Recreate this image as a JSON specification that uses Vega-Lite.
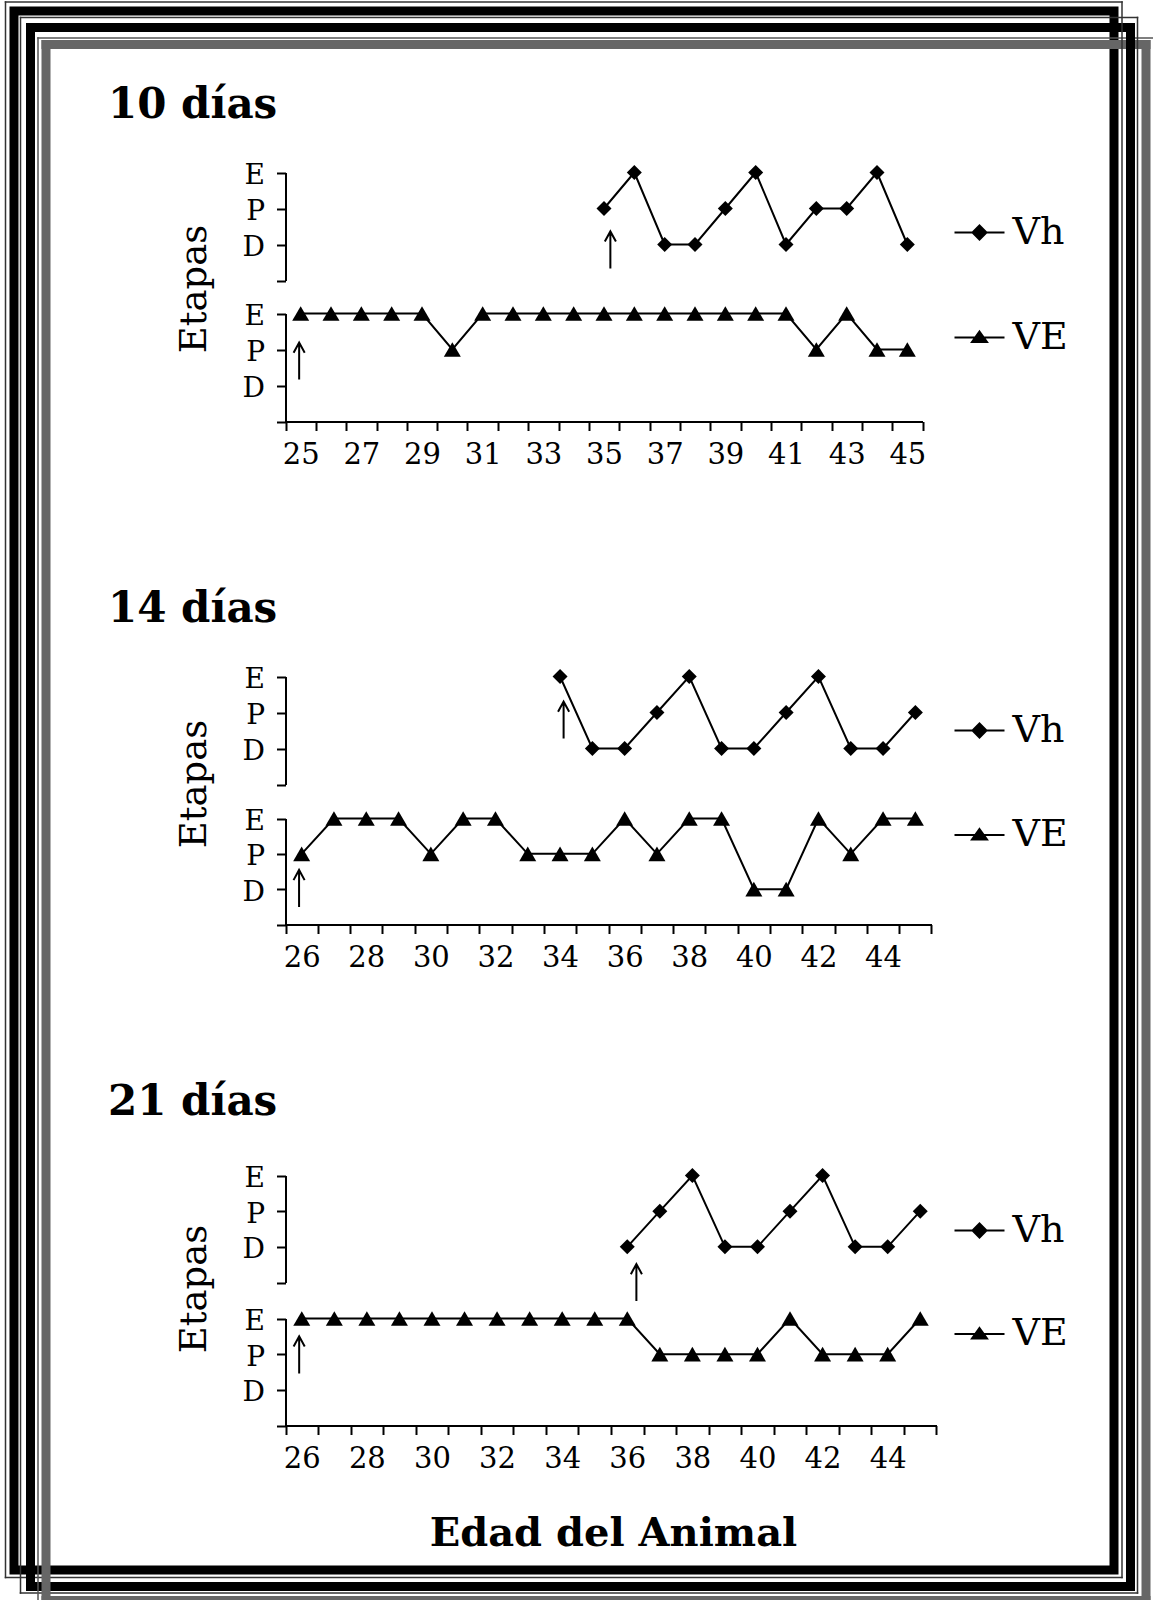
{
  "$schema": "https://vega.github.io/schema/vega-lite/v6.json",
  "padding": {"left": 2, "top": -2, "right": 0, "bottom": 0},
  "background": "white",
  "width": 1100,
  "height": 1559,
  "view": {"stroke": "black", "strokeWidth": 9, "fill": null},
  "datasets": {
    "etapas": [
      {"grupo": "10 días", "serie": "Vh", "edad": 35, "etapa": 2},
      {"grupo": "10 días", "serie": "Vh", "edad": 36, "etapa": 3},
      {"grupo": "10 días", "serie": "Vh", "edad": 37, "etapa": 1},
      {"grupo": "10 días", "serie": "Vh", "edad": 38, "etapa": 1},
      {"grupo": "10 días", "serie": "Vh", "edad": 39, "etapa": 2},
      {"grupo": "10 días", "serie": "Vh", "edad": 40, "etapa": 3},
      {"grupo": "10 días", "serie": "Vh", "edad": 41, "etapa": 1},
      {"grupo": "10 días", "serie": "Vh", "edad": 42, "etapa": 2},
      {"grupo": "10 días", "serie": "Vh", "edad": 43, "etapa": 2},
      {"grupo": "10 días", "serie": "Vh", "edad": 44, "etapa": 3},
      {"grupo": "10 días", "serie": "Vh", "edad": 45, "etapa": 1},
      {"grupo": "10 días", "serie": "VE", "edad": 25, "etapa": 3},
      {"grupo": "10 días", "serie": "VE", "edad": 26, "etapa": 3},
      {"grupo": "10 días", "serie": "VE", "edad": 27, "etapa": 3},
      {"grupo": "10 días", "serie": "VE", "edad": 28, "etapa": 3},
      {"grupo": "10 días", "serie": "VE", "edad": 29, "etapa": 3},
      {"grupo": "10 días", "serie": "VE", "edad": 30, "etapa": 2},
      {"grupo": "10 días", "serie": "VE", "edad": 31, "etapa": 3},
      {"grupo": "10 días", "serie": "VE", "edad": 32, "etapa": 3},
      {"grupo": "10 días", "serie": "VE", "edad": 33, "etapa": 3},
      {"grupo": "10 días", "serie": "VE", "edad": 34, "etapa": 3},
      {"grupo": "10 días", "serie": "VE", "edad": 35, "etapa": 3},
      {"grupo": "10 días", "serie": "VE", "edad": 36, "etapa": 3},
      {"grupo": "10 días", "serie": "VE", "edad": 37, "etapa": 3},
      {"grupo": "10 días", "serie": "VE", "edad": 38, "etapa": 3},
      {"grupo": "10 días", "serie": "VE", "edad": 39, "etapa": 3},
      {"grupo": "10 días", "serie": "VE", "edad": 40, "etapa": 3},
      {"grupo": "10 días", "serie": "VE", "edad": 41, "etapa": 3},
      {"grupo": "10 días", "serie": "VE", "edad": 42, "etapa": 2},
      {"grupo": "10 días", "serie": "VE", "edad": 43, "etapa": 3},
      {"grupo": "10 días", "serie": "VE", "edad": 44, "etapa": 2},
      {"grupo": "10 días", "serie": "VE", "edad": 45, "etapa": 2},
      {"grupo": "14 días", "serie": "Vh", "edad": 34, "etapa": 3},
      {"grupo": "14 días", "serie": "Vh", "edad": 35, "etapa": 1},
      {"grupo": "14 días", "serie": "Vh", "edad": 36, "etapa": 1},
      {"grupo": "14 días", "serie": "Vh", "edad": 37, "etapa": 2},
      {"grupo": "14 días", "serie": "Vh", "edad": 38, "etapa": 3},
      {"grupo": "14 días", "serie": "Vh", "edad": 39, "etapa": 1},
      {"grupo": "14 días", "serie": "Vh", "edad": 40, "etapa": 1},
      {"grupo": "14 días", "serie": "Vh", "edad": 41, "etapa": 2},
      {"grupo": "14 días", "serie": "Vh", "edad": 42, "etapa": 3},
      {"grupo": "14 días", "serie": "Vh", "edad": 43, "etapa": 1},
      {"grupo": "14 días", "serie": "Vh", "edad": 44, "etapa": 1},
      {"grupo": "14 días", "serie": "Vh", "edad": 45, "etapa": 2},
      {"grupo": "14 días", "serie": "VE", "edad": 26, "etapa": 2},
      {"grupo": "14 días", "serie": "VE", "edad": 27, "etapa": 3},
      {"grupo": "14 días", "serie": "VE", "edad": 28, "etapa": 3},
      {"grupo": "14 días", "serie": "VE", "edad": 29, "etapa": 3},
      {"grupo": "14 días", "serie": "VE", "edad": 30, "etapa": 2},
      {"grupo": "14 días", "serie": "VE", "edad": 31, "etapa": 3},
      {"grupo": "14 días", "serie": "VE", "edad": 32, "etapa": 3},
      {"grupo": "14 días", "serie": "VE", "edad": 33, "etapa": 2},
      {"grupo": "14 días", "serie": "VE", "edad": 34, "etapa": 2},
      {"grupo": "14 días", "serie": "VE", "edad": 35, "etapa": 2},
      {"grupo": "14 días", "serie": "VE", "edad": 36, "etapa": 3},
      {"grupo": "14 días", "serie": "VE", "edad": 37, "etapa": 2},
      {"grupo": "14 días", "serie": "VE", "edad": 38, "etapa": 3},
      {"grupo": "14 días", "serie": "VE", "edad": 39, "etapa": 3},
      {"grupo": "14 días", "serie": "VE", "edad": 40, "etapa": 1},
      {"grupo": "14 días", "serie": "VE", "edad": 41, "etapa": 1},
      {"grupo": "14 días", "serie": "VE", "edad": 42, "etapa": 3},
      {"grupo": "14 días", "serie": "VE", "edad": 43, "etapa": 2},
      {"grupo": "14 días", "serie": "VE", "edad": 44, "etapa": 3},
      {"grupo": "14 días", "serie": "VE", "edad": 45, "etapa": 3},
      {"grupo": "21 días", "serie": "Vh", "edad": 36, "etapa": 1},
      {"grupo": "21 días", "serie": "Vh", "edad": 37, "etapa": 2},
      {"grupo": "21 días", "serie": "Vh", "edad": 38, "etapa": 3},
      {"grupo": "21 días", "serie": "Vh", "edad": 39, "etapa": 1},
      {"grupo": "21 días", "serie": "Vh", "edad": 40, "etapa": 1},
      {"grupo": "21 días", "serie": "Vh", "edad": 41, "etapa": 2},
      {"grupo": "21 días", "serie": "Vh", "edad": 42, "etapa": 3},
      {"grupo": "21 días", "serie": "Vh", "edad": 43, "etapa": 1},
      {"grupo": "21 días", "serie": "Vh", "edad": 44, "etapa": 1},
      {"grupo": "21 días", "serie": "Vh", "edad": 45, "etapa": 2},
      {"grupo": "21 días", "serie": "VE", "edad": 26, "etapa": 3},
      {"grupo": "21 días", "serie": "VE", "edad": 27, "etapa": 3},
      {"grupo": "21 días", "serie": "VE", "edad": 28, "etapa": 3},
      {"grupo": "21 días", "serie": "VE", "edad": 29, "etapa": 3},
      {"grupo": "21 días", "serie": "VE", "edad": 30, "etapa": 3},
      {"grupo": "21 días", "serie": "VE", "edad": 31, "etapa": 3},
      {"grupo": "21 días", "serie": "VE", "edad": 32, "etapa": 3},
      {"grupo": "21 días", "serie": "VE", "edad": 33, "etapa": 3},
      {"grupo": "21 días", "serie": "VE", "edad": 34, "etapa": 3},
      {"grupo": "21 días", "serie": "VE", "edad": 35, "etapa": 3},
      {"grupo": "21 días", "serie": "VE", "edad": 36, "etapa": 3},
      {"grupo": "21 días", "serie": "VE", "edad": 37, "etapa": 2},
      {"grupo": "21 días", "serie": "VE", "edad": 38, "etapa": 2},
      {"grupo": "21 días", "serie": "VE", "edad": 39, "etapa": 2},
      {"grupo": "21 días", "serie": "VE", "edad": 40, "etapa": 2},
      {"grupo": "21 días", "serie": "VE", "edad": 41, "etapa": 3},
      {"grupo": "21 días", "serie": "VE", "edad": 42, "etapa": 2},
      {"grupo": "21 días", "serie": "VE", "edad": 43, "etapa": 2},
      {"grupo": "21 días", "serie": "VE", "edad": 44, "etapa": 2},
      {"grupo": "21 días", "serie": "VE", "edad": 45, "etapa": 3}
    ],
    "flechas": [
      {"grupo": "10 días", "serie": "Vh", "edad": 35, "etapa": 0.85},
      {"grupo": "10 días", "serie": "VE", "edad": 25, "etapa": 1.68},
      {"grupo": "14 días", "serie": "Vh", "edad": 34, "etapa": 1.79},
      {"grupo": "14 días", "serie": "VE", "edad": 26, "etapa": 1.02},
      {"grupo": "21 días", "serie": "Vh", "edad": 36, "etapa": 0.0},
      {"grupo": "21 días", "serie": "VE", "edad": 26, "etapa": 1.98}
    ]
  },
  "config": {
    "view": {"stroke": null},
    "font": "DejaVu Serif",
    "axis": {"grid": false, "domainColor": "black", "domainWidth": 2, "tickColor": "black", "tickWidth": 2, "tickSize": 9, "labelColor": "black", "titleColor": "black", "labelFont": "DejaVu Serif", "titleFont": "DejaVu Serif"},
    "axisY": {"labelFontSize": 28, "labelPadding": 12, "labelOffset": 3, "labelFlush": false},
    "axisX": {"labelFontSize": 29, "labelPadding": 10, "labelAngle": 0, "labelOverlap": false, "labelFlush": false},
    "legend": {"labelFont": "DejaVu Serif", "labelFontSize": 38, "labelColor": "black", "labelOffset": 7, "padding": 0, "symbolSize": 2500, "symbolStrokeWidth": 2, "symbolStrokeColor": "black", "symbolFillColor": "black"}
  },
  "resolve": {
    "scale": {"x": "independent", "y": "independent", "color": "independent"},
    "axis": {"x": "independent", "y": "independent"},
    "legend": {"color": "independent"}
  },
  "layer": [
    {
      "data": {"name": "etapas"},
      "mark": {"type": "point", "opacity": 0},
      "encoding": {
        "x": {"field": "edad", "type": "quantitative", "scale": {"domain": [25, 45], "range": [-9, 1107.5], "nice": false, "zero": false}, "axis": {"orient": "top", "offset": 9.5, "domainWidth": 1.5, "domainColor": "#333333", "domainCap": "square", "ticks": false, "labels": false, "title": null}},
        "y": {"field": "etapa", "type": "quantitative", "scale": {"domain": [0, 3], "range": [1566, -9.5], "nice": false, "zero": false}, "axis": {"orient": "left", "offset": 9, "domainWidth": 1.5, "domainColor": "#333333", "domainCap": "square", "ticks": false, "labels": false, "title": null}}
      }
    },
    {
      "data": {"name": "etapas"},
      "mark": {"type": "point", "opacity": 0},
      "encoding": {
        "x": {"field": "edad", "type": "quantitative", "scale": {"domain": [25, 45], "range": [-9, 1107.5], "nice": false, "zero": false}, "axis": {"orient": "bottom", "offset": 7, "domainWidth": 1.5, "domainColor": "#333333", "domainCap": "square", "ticks": false, "labels": false, "title": null}},
        "y": {"field": "etapa", "type": "quantitative", "scale": {"domain": [0, 3], "range": [1566, -9.5], "nice": false, "zero": false}, "axis": {"orient": "right", "offset": 7.5, "domainWidth": 1.5, "domainColor": "#333333", "domainCap": "square", "ticks": false, "labels": false, "title": null}}
      }
    },
    {
      "data": {"name": "etapas"},
      "mark": {"type": "point", "opacity": 0},
      "encoding": {
        "x": {"field": "edad", "type": "quantitative", "scale": {"domain": [25, 45], "range": [6, 1123], "nice": false, "zero": false}, "axis": {"orient": "top", "offset": -6, "domainWidth": 1.5, "domainColor": "#333333", "domainCap": "square", "ticks": false, "labels": false, "title": null}},
        "y": {"field": "etapa", "type": "quantitative", "scale": {"domain": [0, 3], "range": [1581.5, 6], "nice": false, "zero": false}, "axis": {"orient": "left", "offset": -6, "domainWidth": 1.5, "domainColor": "#333333", "domainCap": "square", "ticks": false, "labels": false, "title": null}}
      }
    },
    {
      "data": {"name": "etapas"},
      "mark": {"type": "point", "opacity": 0},
      "encoding": {
        "x": {"field": "edad", "type": "quantitative", "scale": {"domain": [25, 45], "range": [6, 1123], "nice": false, "zero": false}, "axis": {"orient": "bottom", "offset": 22.5, "domainWidth": 1.5, "domainColor": "#333333", "domainCap": "square", "ticks": false, "labels": false, "title": null}},
        "y": {"field": "etapa", "type": "quantitative", "scale": {"domain": [0, 3], "range": [1581.5, 6], "nice": false, "zero": false}, "axis": {"orient": "right", "offset": 23, "domainWidth": 1.5, "domainColor": "#333333", "domainCap": "square", "ticks": false, "labels": false, "title": null}}
      }
    },
    {
      "data": {"name": "etapas"},
      "mark": {"type": "point", "opacity": 0},
      "encoding": {
        "x": {"field": "edad", "type": "quantitative", "scale": {"domain": [25, 45], "range": [23.5, 1145], "nice": false, "zero": false}, "axis": {"orient": "top", "offset": -26.5, "domainWidth": 1.5, "domainColor": "#555555", "domainCap": "square", "ticks": false, "labels": false, "title": null}},
        "y": {"field": "etapa", "type": "quantitative", "scale": {"domain": [0, 3], "range": [1600, 26.5], "nice": false, "zero": false}, "axis": {"orient": "left", "offset": -23.5, "domainWidth": 1.5, "domainColor": "#555555", "domainCap": "square", "ticks": false, "labels": false, "title": null}}
      }
    },
    {
      "data": {"name": "etapas"},
      "mark": {"type": "point", "opacity": 0},
      "encoding": {
        "x": {"field": "edad", "type": "quantitative", "scale": {"domain": [25, 45], "range": [31.5, 1131.5], "nice": false, "zero": false}, "axis": {"orient": "top", "offset": -33, "domainWidth": 9, "domainColor": "#666666", "domainCap": "square", "ticks": false, "labels": false, "title": null}},
        "y": {"field": "etapa", "type": "quantitative", "scale": {"domain": [0, 3], "range": [1589, 33], "nice": false, "zero": false}, "axis": {"orient": "left", "offset": -31.5, "domainWidth": 9, "domainColor": "#666666", "domainCap": "square", "ticks": false, "labels": false, "title": null}}
      }
    },
    {
      "data": {"name": "etapas"},
      "mark": {"type": "point", "opacity": 0},
      "encoding": {
        "x": {"field": "edad", "type": "quantitative", "scale": {"domain": [25, 45], "range": [31.5, 1131.5], "nice": false, "zero": false}, "axis": {"orient": "bottom", "offset": 30, "domainWidth": 9, "domainColor": "#666666", "domainCap": "square", "ticks": false, "labels": false, "title": null}},
        "y": {"field": "etapa", "type": "quantitative", "scale": {"domain": [0, 3], "range": [1589, 33], "nice": false, "zero": false}, "axis": {"orient": "right", "offset": 31.5, "domainWidth": 9, "domainColor": "#666666", "domainCap": "square", "ticks": false, "labels": false, "title": null}}
      }
    },
    {
      "data": {"name": "etapas"},
      "mark": {"type": "point", "opacity": 0},
      "encoding": {
        "x": {"field": "edad", "type": "quantitative", "scale": {"domain": [25, 45], "range": [16, 1116], "nice": false, "zero": false}, "axis": {"orient": "top", "offset": -16, "domainWidth": 9, "domainColor": "black", "domainCap": "square", "ticks": false, "labels": false, "title": null}},
        "y": {"field": "etapa", "type": "quantitative", "scale": {"domain": [0, 3], "range": [1575, 16], "nice": false, "zero": false}, "axis": {"orient": "left", "offset": -16, "domainWidth": 9, "domainColor": "black", "domainCap": "square", "ticks": false, "labels": false, "title": null}}
      }
    },
    {
      "data": {"name": "etapas"},
      "mark": {"type": "point", "opacity": 0},
      "encoding": {
        "x": {"field": "edad", "type": "quantitative", "scale": {"domain": [25, 45], "range": [16, 1116], "nice": false, "zero": false}, "axis": {"orient": "bottom", "offset": 16, "domainWidth": 9, "domainColor": "black", "domainCap": "square", "ticks": false, "labels": false, "title": null}},
        "y": {"field": "etapa", "type": "quantitative", "scale": {"domain": [0, 3], "range": [1575, 16], "nice": false, "zero": false}, "axis": {"orient": "right", "offset": 16, "domainWidth": 9, "domainColor": "black", "domainCap": "square", "ticks": false, "labels": false, "title": null}}
      }
    },
    {
      "data": {"name": "etapas"},
      "encoding": {
        "x": {"field": "edad", "type": "ordinal", "bandPosition": 0.5, "scale": {"type": "band", "domain": [25,26,27,28,29,30,31,32,33,34,35,36,37,38,39,40,41,42,43,44,45], "range": [271.5, 908.5], "paddingInner": 0, "paddingOuter": 0}, "axis": {"orient": "top", "offset": 0, "domain": false, "ticks": false, "labels": false, "title": "10 días", "titleFontSize": 42, "titleFontWeight": "bold", "titleX": 93.5, "titleY": 106.5, "titleAlign": "left", "titleBaseline": "alphabetic", "titleAngle": 0}},
        "y": {"field": "etapa", "type": "quantitative", "scale": {"domain": [0, 3], "range": [269.5, 161.5], "nice": false, "zero": false}, "axis": {"orient": "left", "offset": -271.5, "values": [0,1,2,3], "labelExpr": "datum.value == 3 ? 'E' : datum.value == 2 ? 'P' : datum.value == 1 ? 'D' : ''", "title": "Etapas", "titleFontSize": 37, "titleFontWeight": "normal", "titleAngle": 270, "titleX": -80, "titleY": 277.5, "titleAlign": "center", "titleBaseline": "alphabetic"}}
      },
      "layer": [
        {"transform": [{"filter": "datum.grupo == '10 días' && datum.serie == 'Vh'"}], "mark": {"type": "line", "strokeWidth": 2, "color": "black"},
         "encoding": {"color": {"field": "serie", "type": "nominal", "scale": {"range": ["black"]}, "legend": {"title": null, "orient": "none", "legendX": 939.5, "legendY": 195.5, "symbolType": "M-1,0H1M0,-0.28L0.28,0L0,0.28L-0.28,0Z", "encode": {"symbols": {"update": {"fill": {"value": "black"}, "stroke": {"value": "black"}, "strokeWidth": {"value": 2}, "opacity": {"value": 1}}}}}}}},
        {"transform": [{"filter": "datum.grupo == '10 días' && datum.serie == 'Vh'"}], "mark": {"type": "point", "shape": "diamond", "size": 225, "filled": true, "color": "black", "opacity": 1}},
        {"data": {"name": "flechas"}, "transform": [{"filter": "datum.grupo == '10 días' && datum.serie == 'Vh'"}], "mark": {"type": "point", "shape": "M0,-1V1M-0.3,-0.45L0,-1L0.3,-0.45", "size": 1369, "filled": false, "color": "black", "stroke": "black", "strokeWidth": 2, "opacity": 1},
         "encoding": {"x": {"field": "edad", "type": "ordinal", "bandPosition": 0.71}}}
      ]
    },
    {
      "data": {"name": "etapas"},
      "encoding": {
        "x": {"field": "edad", "type": "ordinal", "bandPosition": 0.5, "scale": {"type": "band", "domain": [25,26,27,28,29,30,31,32,33,34,35,36,37,38,39,40,41,42,43,44,45], "range": [271.5, 908.5], "paddingInner": 0, "paddingOuter": 0}, "axis": {"orient": "bottom", "offset": -1148.5, "tickBand": "extent", "labelExpr": "datum.value % 2 == 1 ? datum.label : ''", "title": null}},
        "y": {"field": "etapa", "type": "quantitative", "scale": {"domain": [0, 3], "range": [410.5, 302.5], "nice": false, "zero": false}, "axis": {"orient": "left", "offset": -271.5, "values": [0,1,2,3], "labelExpr": "datum.value == 3 ? 'E' : datum.value == 2 ? 'P' : datum.value == 1 ? 'D' : ''", "title": null}}
      },
      "layer": [
        {"transform": [{"filter": "datum.grupo == '10 días' && datum.serie == 'VE'"}], "mark": {"type": "line", "strokeWidth": 2, "color": "black"},
         "encoding": {"color": {"field": "serie", "type": "nominal", "scale": {"range": ["black"]}, "legend": {"title": null, "orient": "none", "legendX": 939.5, "legendY": 300.5, "symbolType": "M-1,0H1M0,-0.24L0.3,0.18L-0.3,0.18Z", "encode": {"symbols": {"update": {"fill": {"value": "black"}, "stroke": {"value": "black"}, "strokeWidth": {"value": 2}, "opacity": {"value": 1}}}}}}}},
        {"transform": [{"filter": "datum.grupo == '10 días' && datum.serie == 'VE'"}], "mark": {"type": "point", "shape": "triangle-up", "size": 289, "filled": true, "color": "black", "opacity": 1}},
        {"data": {"name": "flechas"}, "transform": [{"filter": "datum.grupo == '10 días' && datum.serie == 'VE'"}], "mark": {"type": "point", "shape": "M0,-1V1M-0.3,-0.45L0,-1L0.3,-0.45", "size": 1369, "filled": false, "color": "black", "stroke": "black", "strokeWidth": 2, "opacity": 1},
         "encoding": {"x": {"field": "edad", "type": "ordinal", "bandPosition": 0.45}}}
      ]
    },
    {
      "data": {"name": "etapas"},
      "encoding": {
        "x": {"field": "edad", "type": "ordinal", "bandPosition": 0.5, "scale": {"type": "band", "domain": [26,27,28,29,30,31,32,33,34,35,36,37,38,39,40,41,42,43,44,45], "range": [271.5, 917.5], "paddingInner": 0, "paddingOuter": 0}, "axis": {"orient": "top", "offset": 0, "domain": false, "ticks": false, "labels": false, "title": "14 días", "titleFontSize": 42, "titleFontWeight": "bold", "titleX": 93.5, "titleY": 610, "titleAlign": "left", "titleBaseline": "alphabetic", "titleAngle": 0}},
        "y": {"field": "etapa", "type": "quantitative", "scale": {"domain": [0, 3], "range": [773.5, 665.5], "nice": false, "zero": false}, "axis": {"orient": "left", "offset": -271.5, "values": [0,1,2,3], "labelExpr": "datum.value == 3 ? 'E' : datum.value == 2 ? 'P' : datum.value == 1 ? 'D' : ''", "title": "Etapas", "titleFontSize": 37, "titleFontWeight": "normal", "titleAngle": 270, "titleX": -80, "titleY": 772.5, "titleAlign": "center", "titleBaseline": "alphabetic"}}
      },
      "layer": [
        {"transform": [{"filter": "datum.grupo == '14 días' && datum.serie == 'Vh'"}], "mark": {"type": "line", "strokeWidth": 2, "color": "black"},
         "encoding": {"color": {"field": "serie", "type": "nominal", "scale": {"range": ["black"]}, "legend": {"title": null, "orient": "none", "legendX": 939.5, "legendY": 693.5, "symbolType": "M-1,0H1M0,-0.28L0.28,0L0,0.28L-0.28,0Z", "encode": {"symbols": {"update": {"fill": {"value": "black"}, "stroke": {"value": "black"}, "strokeWidth": {"value": 2}, "opacity": {"value": 1}}}}}}}},
        {"transform": [{"filter": "datum.grupo == '14 días' && datum.serie == 'Vh'"}], "mark": {"type": "point", "shape": "diamond", "size": 225, "filled": true, "color": "black", "opacity": 1}},
        {"data": {"name": "flechas"}, "transform": [{"filter": "datum.grupo == '14 días' && datum.serie == 'Vh'"}], "mark": {"type": "point", "shape": "M0,-1V1M-0.3,-0.45L0,-1L0.3,-0.45", "size": 1369, "filled": false, "color": "black", "stroke": "black", "strokeWidth": 2, "opacity": 1},
         "encoding": {"x": {"field": "edad", "type": "ordinal", "bandPosition": 0.61}}}
      ]
    },
    {
      "data": {"name": "etapas"},
      "encoding": {
        "x": {"field": "edad", "type": "ordinal", "bandPosition": 0.5, "scale": {"type": "band", "domain": [26,27,28,29,30,31,32,33,34,35,36,37,38,39,40,41,42,43,44,45], "range": [271.5, 917.5], "paddingInner": 0, "paddingOuter": 0}, "axis": {"orient": "bottom", "offset": -645.5, "tickBand": "extent", "labelExpr": "datum.value % 2 == 0 ? datum.label : ''", "title": null}},
        "y": {"field": "etapa", "type": "quantitative", "scale": {"domain": [0, 3], "range": [913.5, 807.5], "nice": false, "zero": false}, "axis": {"orient": "left", "offset": -271.5, "values": [0,1,2,3], "labelExpr": "datum.value == 3 ? 'E' : datum.value == 2 ? 'P' : datum.value == 1 ? 'D' : ''", "title": null}}
      },
      "layer": [
        {"transform": [{"filter": "datum.grupo == '14 días' && datum.serie == 'VE'"}], "mark": {"type": "line", "strokeWidth": 2, "color": "black"},
         "encoding": {"color": {"field": "serie", "type": "nominal", "scale": {"range": ["black"]}, "legend": {"title": null, "orient": "none", "legendX": 939.5, "legendY": 798, "symbolType": "M-1,0H1M0,-0.24L0.3,0.18L-0.3,0.18Z", "encode": {"symbols": {"update": {"fill": {"value": "black"}, "stroke": {"value": "black"}, "strokeWidth": {"value": 2}, "opacity": {"value": 1}}}}}}}},
        {"transform": [{"filter": "datum.grupo == '14 días' && datum.serie == 'VE'"}], "mark": {"type": "point", "shape": "triangle-up", "size": 289, "filled": true, "color": "black", "opacity": 1}},
        {"data": {"name": "flechas"}, "transform": [{"filter": "datum.grupo == '14 días' && datum.serie == 'VE'"}], "mark": {"type": "point", "shape": "M0,-1V1M-0.3,-0.45L0,-1L0.3,-0.45", "size": 1369, "filled": false, "color": "black", "stroke": "black", "strokeWidth": 2, "opacity": 1},
         "encoding": {"x": {"field": "edad", "type": "ordinal", "bandPosition": 0.42}}}
      ]
    },
    {
      "data": {"name": "etapas"},
      "encoding": {
        "x": {"field": "edad", "type": "ordinal", "bandPosition": 0.5, "scale": {"type": "band", "domain": [26,27,28,29,30,31,32,33,34,35,36,37,38,39,40,41,42,43,44,45], "range": [271.5, 922.5], "paddingInner": 0, "paddingOuter": 0}, "axis": {"orient": "top", "offset": 0, "domain": false, "ticks": false, "labels": false, "title": "21 días", "titleFontSize": 42, "titleFontWeight": "bold", "titleX": 93.5, "titleY": 1103.5, "titleAlign": "left", "titleBaseline": "alphabetic", "titleAngle": 0}},
        "y": {"field": "etapa", "type": "quantitative", "scale": {"domain": [0, 3], "range": [1271.5, 1164.5], "nice": false, "zero": false}, "axis": {"orient": "left", "offset": -271.5, "values": [0,1,2,3], "labelExpr": "datum.value == 3 ? 'E' : datum.value == 2 ? 'P' : datum.value == 1 ? 'D' : ''", "title": "Etapas", "titleFontSize": 37, "titleFontWeight": "normal", "titleAngle": 270, "titleX": -80, "titleY": 1277.5, "titleAlign": "center", "titleBaseline": "alphabetic"}}
      },
      "layer": [
        {"transform": [{"filter": "datum.grupo == '21 días' && datum.serie == 'Vh'"}], "mark": {"type": "line", "strokeWidth": 2, "color": "black"},
         "encoding": {"color": {"field": "serie", "type": "nominal", "scale": {"range": ["black"]}, "legend": {"title": null, "orient": "none", "legendX": 939.5, "legendY": 1193.5, "symbolType": "M-1,0H1M0,-0.28L0.28,0L0,0.28L-0.28,0Z", "encode": {"symbols": {"update": {"fill": {"value": "black"}, "stroke": {"value": "black"}, "strokeWidth": {"value": 2}, "opacity": {"value": 1}}}}}}}},
        {"transform": [{"filter": "datum.grupo == '21 días' && datum.serie == 'Vh'"}], "mark": {"type": "point", "shape": "diamond", "size": 225, "filled": true, "color": "black", "opacity": 1}},
        {"data": {"name": "flechas"}, "transform": [{"filter": "datum.grupo == '21 días' && datum.serie == 'Vh'"}], "mark": {"type": "point", "shape": "M0,-1V1M-0.3,-0.45L0,-1L0.3,-0.45", "size": 1369, "filled": false, "color": "black", "stroke": "black", "strokeWidth": 2, "opacity": 1},
         "encoding": {"x": {"field": "edad", "type": "ordinal", "bandPosition": 0.78}}}
      ]
    },
    {
      "data": {"name": "etapas"},
      "encoding": {
        "x": {"field": "edad", "type": "ordinal", "bandPosition": 0.5, "scale": {"type": "band", "domain": [26,27,28,29,30,31,32,33,34,35,36,37,38,39,40,41,42,43,44,45], "range": [271.5, 922.5], "paddingInner": 0, "paddingOuter": 0}, "axis": {"orient": "bottom", "offset": -144.5, "tickBand": "extent", "labelExpr": "datum.value % 2 == 0 ? datum.label : ''", "title": "Edad del Animal", "titleFontSize": 40, "titleFontWeight": "bold", "titleBaseline": "alphabetic", "titleAlign": "center", "titleX": 599, "titleY": 120}},
        "y": {"field": "etapa", "type": "quantitative", "scale": {"domain": [0, 3], "range": [1414.5, 1307.5], "nice": false, "zero": false}, "axis": {"orient": "left", "offset": -271.5, "values": [0,1,2,3], "labelExpr": "datum.value == 3 ? 'E' : datum.value == 2 ? 'P' : datum.value == 1 ? 'D' : ''", "title": null}}
      },
      "layer": [
        {"transform": [{"filter": "datum.grupo == '21 días' && datum.serie == 'VE'"}], "mark": {"type": "line", "strokeWidth": 2, "color": "black"},
         "encoding": {"color": {"field": "serie", "type": "nominal", "scale": {"range": ["black"]}, "legend": {"title": null, "orient": "none", "legendX": 939.5, "legendY": 1297, "symbolType": "M-1,0H1M0,-0.24L0.3,0.18L-0.3,0.18Z", "encode": {"symbols": {"update": {"fill": {"value": "black"}, "stroke": {"value": "black"}, "strokeWidth": {"value": 2}, "opacity": {"value": 1}}}}}}}},
        {"transform": [{"filter": "datum.grupo == '21 días' && datum.serie == 'VE'"}], "mark": {"type": "point", "shape": "triangle-up", "size": 289, "filled": true, "color": "black", "opacity": 1}},
        {"data": {"name": "flechas"}, "transform": [{"filter": "datum.grupo == '21 días' && datum.serie == 'VE'"}], "mark": {"type": "point", "shape": "M0,-1V1M-0.3,-0.45L0,-1L0.3,-0.45", "size": 1369, "filled": false, "color": "black", "stroke": "black", "strokeWidth": 2, "opacity": 1},
         "encoding": {"x": {"field": "edad", "type": "ordinal", "bandPosition": 0.42}}}
      ]
    }
  ]
}
